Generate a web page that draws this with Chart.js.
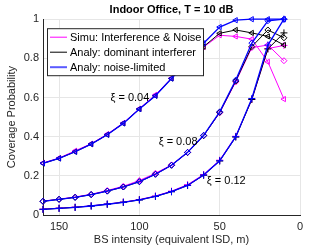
<!DOCTYPE html>
<html>
<head>
<meta charset="utf-8">
<script src="https://cdn.jsdelivr.net/npm/chart.js@4.4.1/dist/chart.umd.min.js"></script>
<style>
  html, body { margin: 0; padding: 0; background: #fff; }
  #wrap { width: 332px; height: 249px; }
</style>
</head>
<body>
<div id="wrap"><canvas id="coverageChart" width="332" height="249"></canvas></div>
<script>
// BS intensity expressed as equivalent ISD (m)
const isd = [160, 150, 140, 130, 120, 110, 100, 90, 80, 70, 60, 50, 40, 30, 20, 10];
const xTicks = [150, 100, 50, 0];
const yTicks = [0, 0.2, 0.4, 0.6, 0.8, 1];

// xi = 0.04
const simu004  = [0.266, 0.291, 0.328, 0.364, 0.413, 0.470, 0.543, 0.614, 0.699, 0.780, 0.858, 0.918, 0.912, 0.898, 0.782, 0.592];
const dom004   = [0.264, 0.289, 0.323, 0.362, 0.410, 0.468, 0.541, 0.609, 0.697, 0.780, 0.860, 0.928, 0.945, 0.930, 0.912, 0.868];
const noise004 = [0.264, 0.289, 0.323, 0.362, 0.410, 0.468, 0.541, 0.609, 0.697, 0.785, 0.877, 0.960, 0.995, 1.000, 1.000, 1.000];

// xi = 0.08
const simu008  = [0.071, 0.081, 0.092, 0.106, 0.125, 0.147, 0.176, 0.213, 0.256, 0.320, 0.406, 0.522, 0.680, 0.855, 0.868, 0.788];
const dom008   = [0.070, 0.080, 0.090, 0.104, 0.122, 0.143, 0.170, 0.208, 0.254, 0.319, 0.405, 0.524, 0.684, 0.860, 0.945, 0.905];
const noise008 = [0.070, 0.080, 0.090, 0.104, 0.122, 0.143, 0.170, 0.208, 0.254, 0.320, 0.407, 0.527, 0.689, 0.878, 0.992, 1.000];

// xi = 0.12
const simu012  = [0.030, 0.035, 0.040, 0.047, 0.056, 0.066, 0.079, 0.097, 0.122, 0.155, 0.207, 0.280, 0.402, 0.590, 0.850, 0.866];
const dom012   = [0.029, 0.034, 0.039, 0.046, 0.055, 0.065, 0.077, 0.095, 0.119, 0.151, 0.203, 0.276, 0.398, 0.590, 0.848, 0.930];
const noise012 = [0.029, 0.034, 0.039, 0.046, 0.055, 0.065, 0.077, 0.095, 0.119, 0.151, 0.204, 0.277, 0.400, 0.595, 0.868, 1.000];

const legendLabels = ['Simu: Interference & Noise', 'Analy: dominant interferer', 'Analy: noise-limited'];
const curveLabels = ['\u03BE = 0.04', '\u03BE = 0.08', '\u03BE = 0.12'];

const FONT = "'Liberation Sans', Arial, Helvetica, sans-serif";
const MAGENTA = '#ff00ff';
const BLACK = '#000000';
const BLUE = '#0000ff';

Chart.defaults.font.family = FONT;

// marker per xi value
const markers = [
    { pointStyle: 'triangle', rotation: -90, radius: 3 },
    { pointStyle: 'rectRot', rotation: 0, radius: 3 },
    { pointStyle: 'cross', rotation: 0, radius: 3.5 }
];

// order: lower value is drawn on top (simu under, noise-limited over)
function makeSeries(label, values, color, width, marker, order) {
    return {
        label: label,
        data: values.map((v, i) => ({ x: isd[i], y: v })),
        order: order,
        borderColor: color,
        borderWidth: width,
        backgroundColor: 'transparent',
        pointBorderColor: color,
        pointBackgroundColor: 'transparent',
        pointBorderWidth: 1,
        pointStyle: marker.pointStyle,
        rotation: marker.rotation,
        pointRadius: marker.radius,
        tension: 0,
        clip: false
    };
}

const datasets = [
    makeSeries(legendLabels[0], simu004, MAGENTA, 1, markers[0], 3),
    makeSeries(legendLabels[0], simu008, MAGENTA, 1, markers[1], 3),
    makeSeries(legendLabels[0], simu012, MAGENTA, 1, markers[2], 3),
    makeSeries(legendLabels[1], dom004, BLACK, 1, markers[0], 2),
    makeSeries(legendLabels[1], dom008, BLACK, 1, markers[1], 2),
    makeSeries(legendLabels[1], dom012, BLACK, 1, markers[2], 2),
    makeSeries(legendLabels[2], noise004, BLUE, 1.3, markers[0], 1),
    makeSeries(legendLabels[2], noise008, BLUE, 1.3, markers[1], 1),
    makeSeries(legendLabels[2], noise012, BLUE, 1.3, markers[2], 1)
];

// curve annotations (left edge, vertical middle, in data units)
const labelAnchors = [[118, 0.60], [88, 0.371], [58, 0.173]];

const annotations = {
    id: 'annotations',
    afterDraw(chart) {
        const { ctx, chartArea } = chart;
        const xs = chart.scales.x, ys = chart.scales.y;
        ctx.save();

        // xi labels
        ctx.font = '11px ' + FONT;
        ctx.fillStyle = '#000';
        ctx.textAlign = 'left';
        ctx.textBaseline = 'middle';
        curveLabels.forEach((t, i) => {
            ctx.fillText(t, xs.getPixelForValue(labelAnchors[i][0]), ys.getPixelForValue(labelAnchors[i][1]));
        });

        // legend box in the upper left of the axes
        const x0 = chartArea.left + 4, y0 = chartArea.top + 9, w = 156, h = 47;
        ctx.fillStyle = '#fff';
        ctx.fillRect(x0, y0, w, h);
        ctx.strokeStyle = '#262626';
        ctx.lineWidth = 1;
        ctx.strokeRect(x0 + 0.5, y0 + 0.5, w, h);

        const colors = [MAGENTA, BLACK, '#5a5aff'];
        const widths = [1, 1, 2];
        legendLabels.forEach((t, i) => {
            const cy = y0 + 9 + i * 15;
            ctx.strokeStyle = colors[i];
            ctx.lineWidth = widths[i];
            ctx.beginPath();
            ctx.moveTo(x0 + 3, cy);
            ctx.lineTo(x0 + 20, cy);
            ctx.stroke();
            ctx.fillStyle = '#000';
            ctx.fillText(t, x0 + 23, cy + 0.5);
        });
        ctx.restore();
    }
};

new Chart(document.getElementById('coverageChart').getContext('2d'), {
    type: 'line',
    data: { datasets: datasets },
    options: {
        responsive: false,
        animation: false,
        devicePixelRatio: 1,
        layout: { padding: { left: 0, right: 32, top: 0, bottom: 0 } },
        plugins: {
            legend: { display: false },
            tooltip: { enabled: false },
            title: {
                display: true,
                fullSize: false,
                text: 'Indoor Office, T = 10 dB',
                color: '#000',
                font: { family: FONT, size: 11, weight: 'bold' },
                padding: { top: 3, bottom: 3 }
            }
        },
        scales: {
            x: {
                type: 'linear',
                reverse: true,
                min: 0,
                max: 160,
                afterBuildTicks: scale => { scale.ticks = xTicks.map(v => ({ value: v })); },
                afterFit: scale => { scale.height = 34; },
                grid: { color: '#e6e6e6', drawTicks: false },
                border: { color: '#262626' },
                ticks: { color: '#262626', font: { size: 11 }, padding: 5, maxRotation: 0, callback: v => String(v) },
                title: {
                    display: true,
                    text: 'BS intensity (equivalent ISD, m)',
                    color: '#262626',
                    font: { size: 11 },
                    padding: { top: 0, bottom: 2 }
                }
            },
            y: {
                min: 0,
                max: 1,
                afterBuildTicks: scale => { scale.ticks = yTicks.map(v => ({ value: v })); },
                afterFit: scale => { scale.width = 43; },
                grid: { color: '#e6e6e6', drawTicks: false },
                border: { color: '#262626' },
                ticks: { color: '#262626', font: { size: 11 }, padding: 4, callback: v => String(v) },
                title: {
                    display: true,
                    text: 'Coverage Probability',
                    color: '#262626',
                    font: { size: 11 },
                    padding: { top: 5, bottom: 0 }
                }
            }
        }
    },
    plugins: [annotations]
});
</script>
</body>
</html>
